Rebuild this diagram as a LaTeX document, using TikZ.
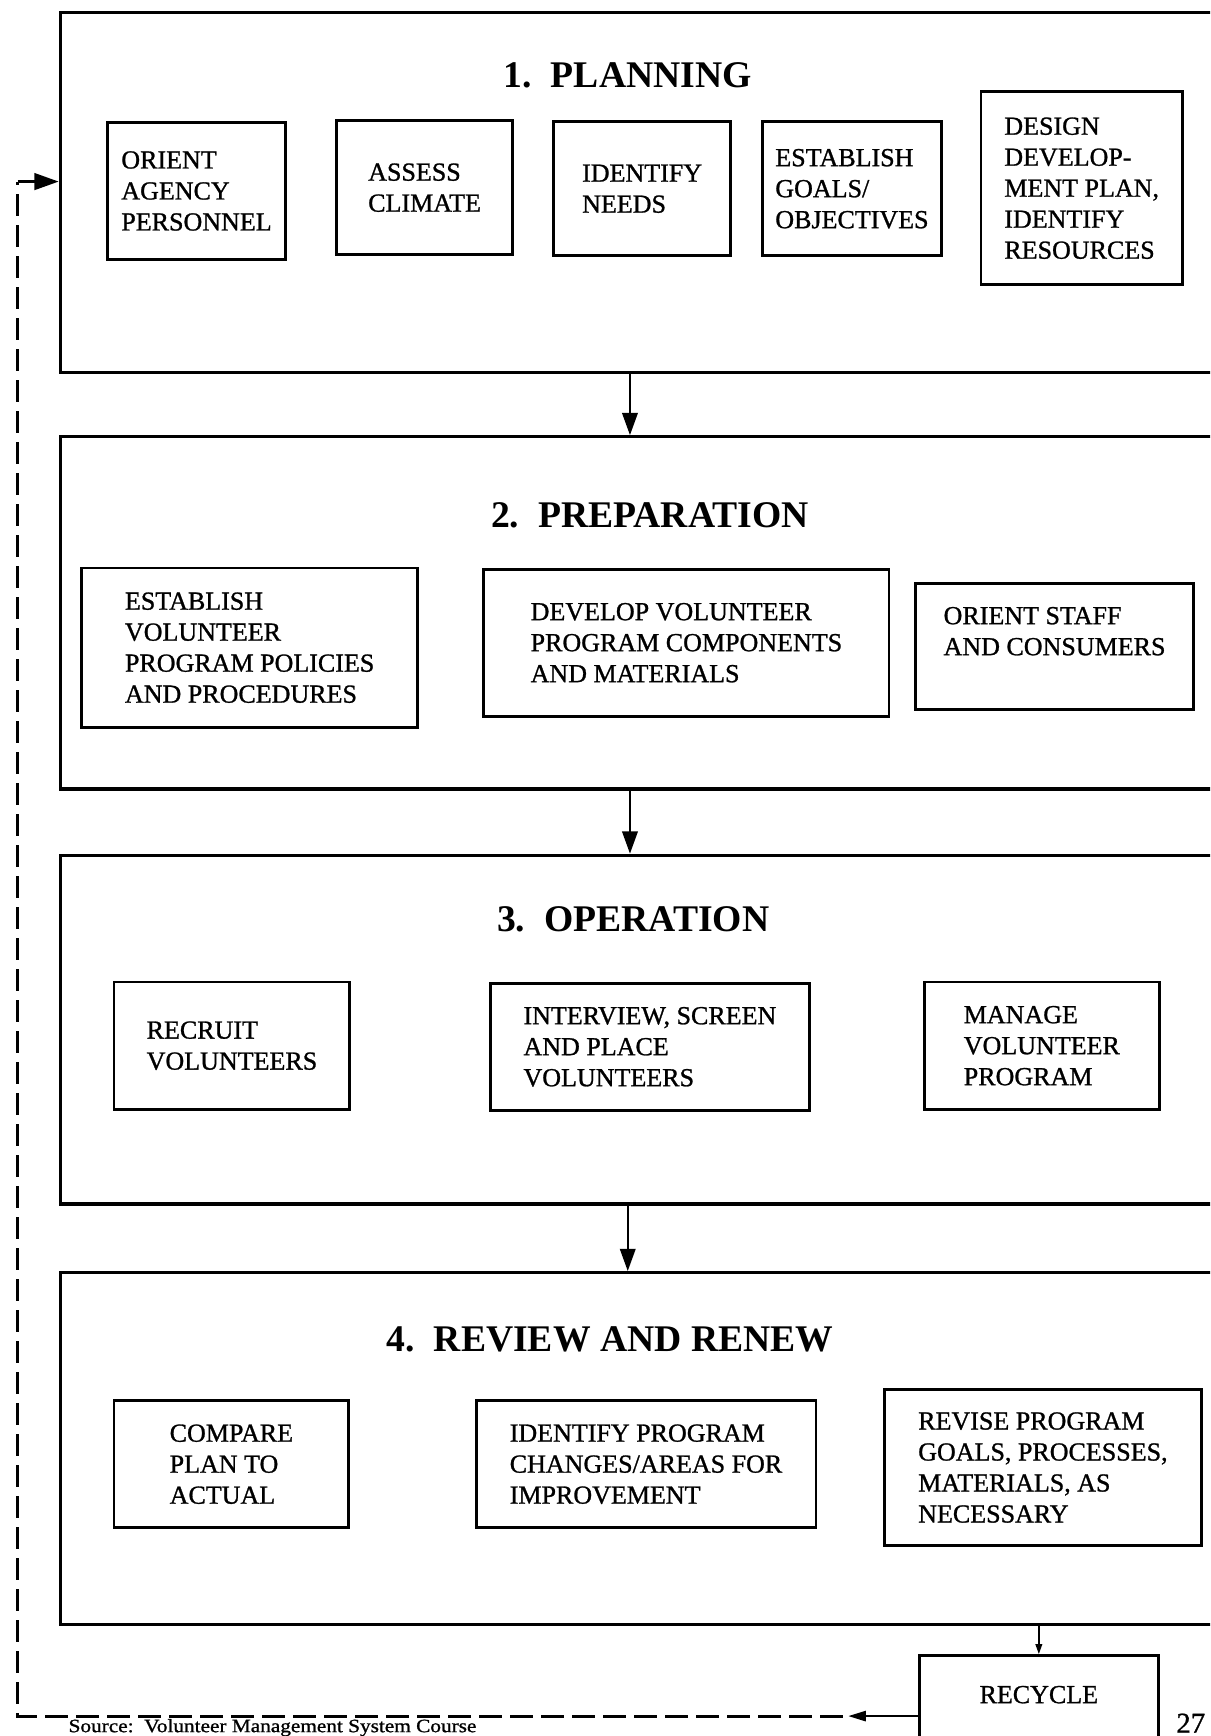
\documentclass[tikz,border=0pt]{standalone}
\usepackage{fontspec}
\setmainfont{Liberation Serif}
\newfontfamily\scanfont{Liberation Serif}[FakeBold=1]
\usetikzlibrary{arrows.meta}
\tikzset{>=stealth}
\tikzset{
  phase/.style={draw,line width=3pt,inner sep=0pt,anchor=north west},
  sbox/.style={draw,line width=2.6pt,align=left,inner sep=0pt,font=\scanfont\fontsize{23.5}{28}\selectfont},
  ptitle/.style={anchor=base,font=\fontsize{34}{40}\selectfont\bfseries},
  flow/.style={line width=1.8pt,-{Triangle[length=20pt,width=14pt]}},
  loopback/.style={line width=2.6pt,dash pattern=on 20pt off 8pt}
}

\begin{document}
\begin{tikzpicture}[x=1pt,y=-1pt]
      \useasboundingbox (0,0) rectangle (1093,1568);
      \clip (0,0) rectangle (1093,1568);
      % the four phases
      \node[phase,minimum width=1097pt,minimum height=325pt] (plan) at (53,10) {};
      \node[phase,minimum width=1097pt,minimum height=318pt] (prep) at (53,393) {};
      \node[phase,minimum width=1097pt,minimum height=315pt] (oper) at (53,771) {};
      \node[phase,minimum width=1097pt,minimum height=318pt] (rev) at (53,1148) {};
      \node[ptitle] (t1) at (567,79) {1.\ \ PLANNING};
      \node[ptitle] (t2) at (587,476) {2.\ \ PREPARATION};
      \node[ptitle] (t3) at (572,841) {3.\ \ OPERATION};
      \node[ptitle] (t4) at (551,1221) {4.\ \ REVIEW AND RENEW};
      % planning
      \node[sbox,minimum width=161pt,minimum height=123pt] (orient) at (177.5,172.5) {ORIENT\\AGENCY\\PERSONNEL};
      \node[sbox,minimum width=159pt,minimum height=121pt] (assess) at (383.5,169.5) {ASSESS\\CLIMATE};
      \node[sbox,minimum width=160pt,minimum height=121pt] (needs) at (580,170.5) {IDENTIFY\\NEEDS};
      \node[sbox,minimum width=161pt,minimum height=121pt] (goals) at (769.5,170.5) {ESTABLISH\\GOALS/\\OBJECTIVES};
      \node[sbox,minimum width=182pt,minimum height=174pt] (design) at (977,170) {DESIGN\\DEVELOP-\\MENT PLAN,\\IDENTIFY\\RESOURCES};
      % preparation
      \node[sbox,minimum width=303pt,minimum height=144pt] (policy) at (225.5,585) {ESTABLISH\\VOLUNTEER\\PROGRAM POLICIES\\AND PROCEDURES};
      \node[sbox,minimum width=366pt,minimum height=133pt] (develop) at (620,580.5) {DEVELOP VOLUNTEER\\PROGRAM COMPONENTS\\AND MATERIALS};
      \node[sbox,minimum width=251pt,minimum height=114pt] (ostaff) at (952.5,584) {ORIENT STAFF\\AND CONSUMERS\\[0pt]\mbox{}};
      % operation
      \node[sbox,minimum width=213pt,minimum height=115pt] (recruit) at (209.5,944.5) {RECRUIT\\VOLUNTEERS};
      \node[sbox,minimum width=288pt,minimum height=115pt] (screen) at (587,945.5) {INTERVIEW, SCREEN\\AND PLACE\\VOLUNTEERS};
      \node[sbox,minimum width=212pt,minimum height=115pt] (manage) at (941,944.5) {MANAGE\\VOLUNTEER\\PROGRAM};
      % review and renew
      \node[sbox,minimum width=212pt,minimum height=115pt] (compare) at (209,1322.5) {COMPARE\\PLAN TO\\ACTUAL};
      \node[sbox,minimum width=307pt,minimum height=115pt] (changes) at (583.5,1322.5) {IDENTIFY PROGRAM\\CHANGES/AREAS FOR\\IMPROVEMENT};
      \node[sbox,minimum width=286pt,minimum height=141pt] (revise) at (942,1325.5) {REVISE PROGRAM\\GOALS, PROCESSES,\\MATERIALS, AS\\NECESSARY};
      \node[sbox,align=center,anchor=north west,minimum width=216pt,text height=43pt,text depth=100pt] (recycle) at (829,1494) {RECYCLE};
      % flow between phases
      \draw[flow] ([xshift=516pt]plan.south west) -- ([xshift=516pt]prep.north west);
      \draw[flow] ([xshift=516pt]prep.south west) -- ([xshift=516pt]oper.north west);
      \draw[flow] ([xshift=514pt]oper.south west) -- ([xshift=514pt]rev.north west);
      \draw[line width=1.5pt,-{Triangle[length=9pt,width=6pt]}] (rev.south -| recycle.north) -- (recycle.north);
      % back to planning
      \coordinate (lowcorner) at (16,1550);
      \coordinate (topcorner) at (16,164);
      \coordinate (dashend) at (766,1550);
      \draw[line width=2.4pt,-{Triangle[length=16pt,width=9pt]}] (recycle.west |- lowcorner) -- (dashend);
      \draw[loopback] ([xshift=-5pt]dashend) -- (lowcorner) -- (topcorner);
      \draw[line width=2.4pt,-{Triangle[length=22pt,width=15pt]}] (topcorner) -- (plan.west |- topcorner);
      \node[anchor=base west,xscale=1.13,transform shape,font=\scanfont\fontsize{17}{20}\selectfont] (src) at (58,1564.5) {Source:\ \ Volunteer Management System Course};
      \node[anchor=base west,font=\scanfont\fontsize{26}{30}\selectfont] (pnum) at (1059,1565) {27};
\end{tikzpicture}
\end{document}
